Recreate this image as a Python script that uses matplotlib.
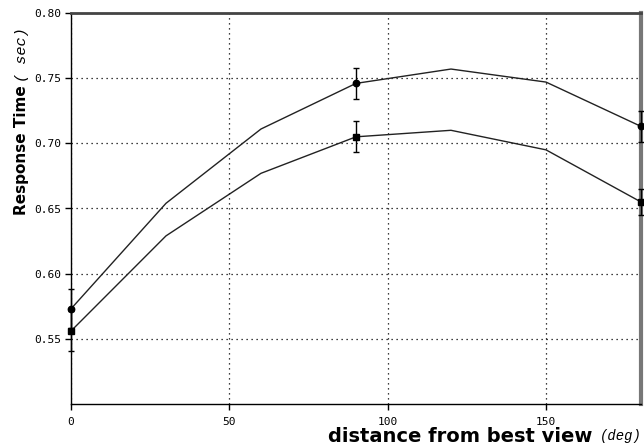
import matplotlib
matplotlib.use("Agg")
import matplotlib.pyplot as plt

# data
angles = [0, 30, 60, 90, 120, 150, 180]
upper = [0.573, 0.654, 0.711, 0.746, 0.757, 0.747, 0.713]
lower = [0.556, 0.629, 0.677, 0.705, 0.710, 0.695, 0.655]
marked_idx = [0, 3, 6]
upper_err = [0.015, 0.012, 0.012]
lower_err = [0.015, 0.012, 0.010]
xticks = [0, 50, 100, 150]
yticks = [0.55, 0.60, 0.65, 0.70, 0.75, 0.80]
ytick_labels = ["0.55", "0.60", "0.65", "0.70", "0.75", "0.80"]

W, H = 644, 448
fig = plt.figure(figsize=(W / 100, H / 100), dpi=100)
ax = fig.add_axes([71 / W, 1 - 404 / H, (641 - 71) / W, (404 - 13) / H])

ax.set_xlim(0, 180)
ax.set_ylim(0.50, 0.80)

for ys, errs, mk, ms in [(upper, upper_err, 'o', 4.6), (lower, lower_err, 's', 3.8)]:
    ax.plot(angles, ys, color='#222222', lw=1.0, clip_on=False, zorder=3)
    mx = [angles[i] for i in marked_idx]
    my = [ys[i] for i in marked_idx]
    ax.errorbar(mx, my, yerr=errs, fmt=mk, color='black', ms=ms, lw=1.0,
                capsize=2.3, capthick=1.0, clip_on=False, zorder=4)

ax.set_xticks(xticks)
ax.set_xticklabels([str(t) for t in xticks])
ax.set_yticks(yticks)
ax.set_yticklabels(ytick_labels)
for lab in ax.get_xticklabels() + ax.get_yticklabels():
    lab.set_fontfamily('DejaVu Sans Mono')
    lab.set_fontsize(8)
ax.tick_params(direction='out', length=4, width=1, color='black', pad=3)
ax.tick_params(axis='x', pad=5)

ax.grid(True, linestyle=(0, (1, 3)), color='black', lw=0.9)
ax.set_axisbelow(True)
for sp in ['left', 'bottom']:
    ax.spines[sp].set_color('black')
    ax.spines[sp].set_linewidth(1.0)
ax.spines['top'].set_color('#444444')
ax.spines['top'].set_linewidth(2.0)
ax.spines['right'].set_color('#777777')
ax.spines['right'].set_linewidth(3.0)

# axis labels
fig.canvas.draw()
r = fig.canvas.get_renderer()

t_deg = fig.text(642 / W, 1 - 436 / H, "(deg)", ha='right', va='center',
                 fontsize=10, style='italic', family='Liberation Mono')
bb = t_deg.get_window_extent(r)
fig.text((bb.x0 - 8) / W, 1 - 436 / H, "distance from best view", ha='right', va='center',
         fontsize=14, weight='bold', family='DejaVu Sans')

t_resp = fig.text(22 / W, 1 - 215 / H, "Response Time", ha='center', va='bottom',
                  rotation=90, fontsize=11, weight='bold', family='DejaVu Sans')
bb2 = t_resp.get_window_extent(r)
fig.text(22 / W, (bb2.y1 + 3) / H, "( sec)", ha='center', va='bottom', rotation=90,
         fontsize=11, style='italic', family='Liberation Mono')

fig.savefig("out.png", dpi=100)
